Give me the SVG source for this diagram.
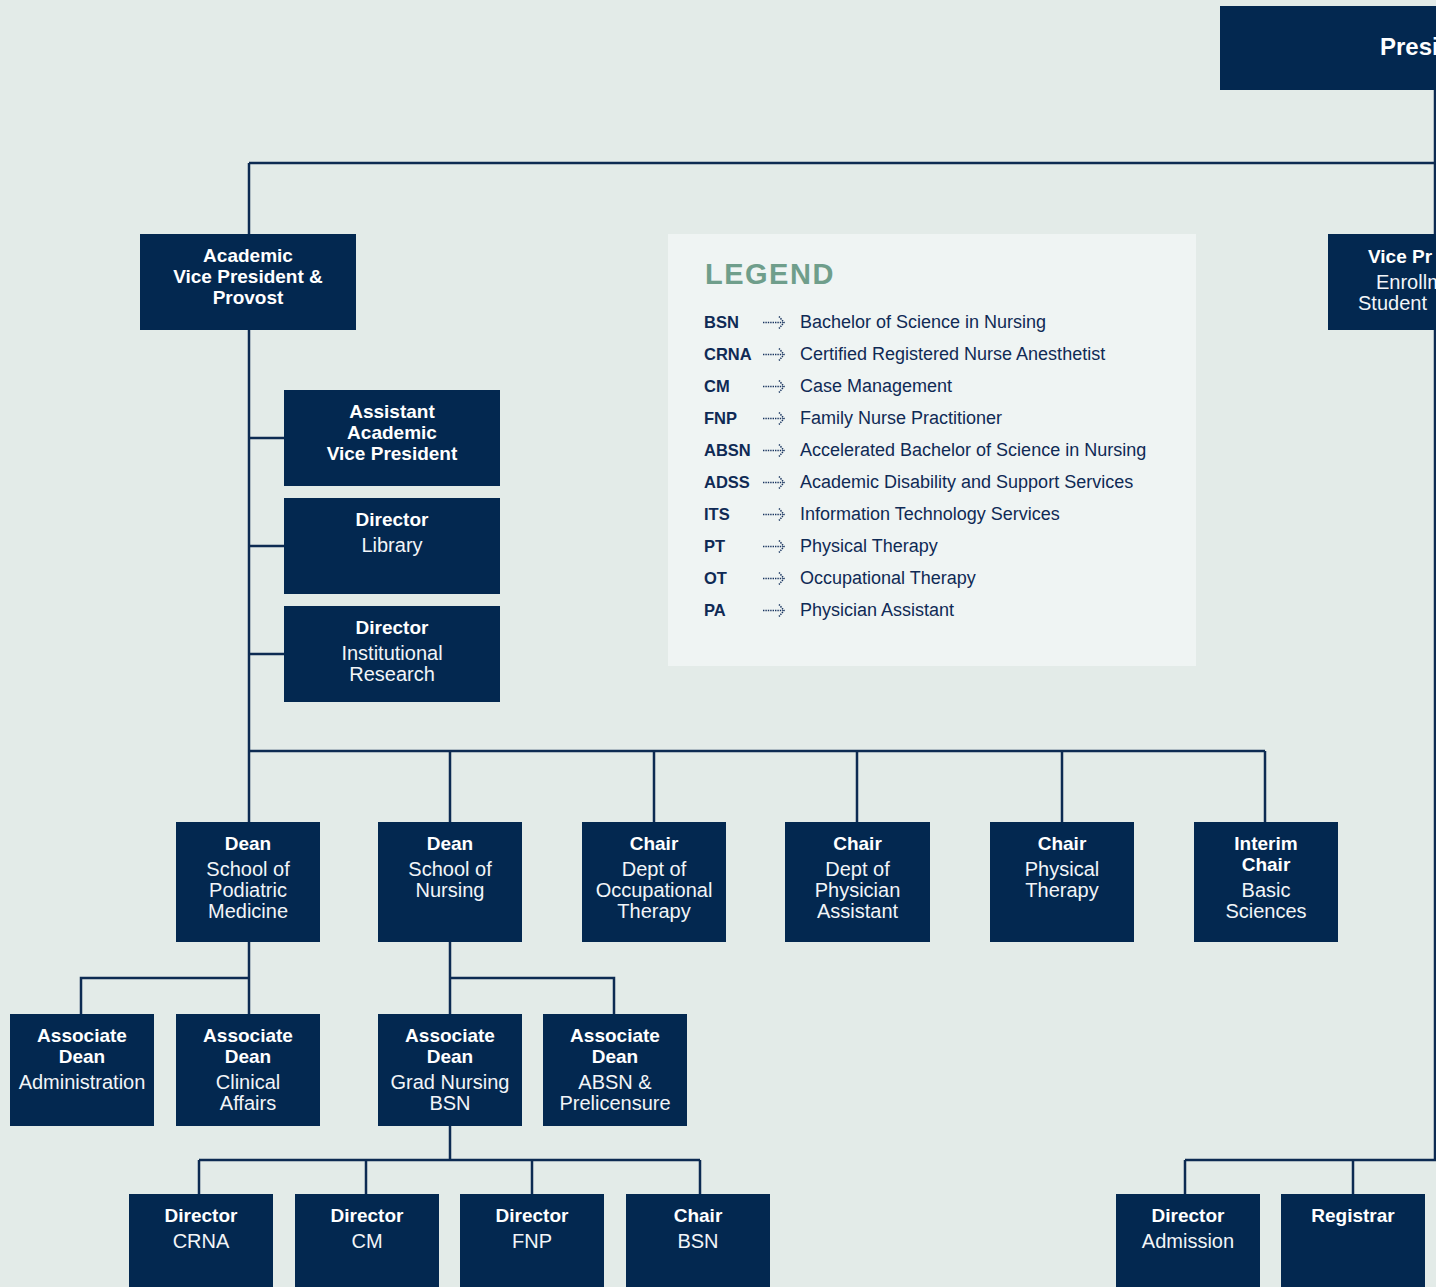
<svg xmlns="http://www.w3.org/2000/svg" width="1436" height="1287" viewBox="0 0 1436 1287">
<defs>
<style>
.bg{fill:#e3ebe8}
.box{fill:#032850}
.ln{stroke:#0d2b52;stroke-width:2.5;fill:none}
.b{font-family:"Liberation Sans",Arial,sans-serif;font-weight:bold;font-size:19px;fill:#ffffff;text-anchor:middle}
.r{font-family:"Liberation Sans",Arial,sans-serif;font-size:20px;fill:#f2f5f8;text-anchor:middle}
.lg{fill:#eff4f3}
.lt{font-family:"Liberation Sans",Arial,sans-serif;font-weight:bold;font-size:29px;fill:#6f9e8b;letter-spacing:1.5px}
.ab{font-family:"Liberation Sans",Arial,sans-serif;font-weight:bold;font-size:16.5px;fill:#0f2a55}
.ds{font-family:"Liberation Sans",Arial,sans-serif;font-size:18px;fill:#0f2a55}
.ar{stroke:#1a3560;stroke-width:1.5;fill:none;stroke-dasharray:1.4 1}
</style>
<g id="arrow"><path class="ar" d="M0 0 H20"/><path class="ar" d="M16 -6 L21 0 L16 6"/></g>
</defs>
<rect class="bg" x="0" y="0" width="1436" height="1287"/>

<g id="connectors">
<path class="ln" d="M1435 90 V1160"/>
<path class="ln" d="M249 163 H1436"/>
<path class="ln" d="M249 163 V234"/>
<path class="ln" d="M249 330 V822"/>
<path class="ln" d="M249 438 H284 M249 546 H284 M249 654 H284"/>
<path class="ln" d="M249 751 H1265"/>
<path class="ln" d="M450 751 V822 M654 751 V822 M857 751 V822 M1062 751 V822 M1265 751 V822"/>
<path class="ln" d="M249 942 V1014 M249 978 H81 V1014"/>
<path class="ln" d="M450 942 V1014 M450 978 H614 V1014"/>
<path class="ln" d="M450 1126 V1160 M199 1160 H700 M199 1160 V1194 M366 1160 V1194 M532 1160 V1194 M700 1160 V1194"/>
<path class="ln" d="M1185 1160 H1436 M1185 1160 V1194 M1353 1160 V1194"/>
</g>

<g id="president">
<rect class="box" x="1220" y="6" width="300" height="84"/>
<text x="1380" y="55" style="font-family:'Liberation Sans',Arial,sans-serif;font-weight:bold;font-size:24px;fill:#fff">Presi</text>
</g>

<g id="vp-enrollment">
<rect class="box" x="1328" y="234" width="216" height="96"/>
<text x="1368" y="263" class="b" style="text-anchor:start">Vice Pr</text>
<text x="1376" y="289" class="r" style="text-anchor:start">Enrollm</text>
<text x="1358" y="310" class="r" style="text-anchor:start">Student</text>
</g>

<g id="avp">
<rect class="box" x="140" y="234" width="216" height="96"/>
<text class="b" x="248" y="262">Academic</text>
<text class="b" x="248" y="283">Vice President &amp;</text>
<text class="b" x="248" y="304">Provost</text>
</g>

<g id="asst-avp">
<rect class="box" x="284" y="390" width="216" height="96"/>
<text class="b" x="392" y="418">Assistant</text>
<text class="b" x="392" y="439">Academic</text>
<text class="b" x="392" y="460">Vice President</text>
</g>

<g id="dir-library">
<rect class="box" x="284" y="498" width="216" height="96"/>
<text class="b" x="392" y="526">Director</text>
<text class="r" x="392" y="552">Library</text>
</g>

<g id="dir-research">
<rect class="box" x="284" y="606" width="216" height="96"/>
<text class="b" x="392" y="634">Director</text>
<text class="r" x="392" y="660">Institutional</text>
<text class="r" x="392" y="681">Research</text>
</g>

<g id="legend">
<rect class="lg" x="668" y="234" width="528" height="432"/>
<text class="lt" x="705" y="284">LEGEND</text>
<text class="ab" x="704" y="328">BSN</text><use href="#arrow" x="763" y="322.5"/><text class="ds" x="800" y="328">Bachelor of Science in Nursing</text>
<text class="ab" x="704" y="360">CRNA</text><use href="#arrow" x="763" y="354.5"/><text class="ds" x="800" y="360">Certified Registered Nurse Anesthetist</text>
<text class="ab" x="704" y="392">CM</text><use href="#arrow" x="763" y="386.5"/><text class="ds" x="800" y="392">Case Management</text>
<text class="ab" x="704" y="424">FNP</text><use href="#arrow" x="763" y="418.5"/><text class="ds" x="800" y="424">Family Nurse Practitioner</text>
<text class="ab" x="704" y="456">ABSN</text><use href="#arrow" x="763" y="450.5"/><text class="ds" x="800" y="456">Accelerated Bachelor of Science in Nursing</text>
<text class="ab" x="704" y="488">ADSS</text><use href="#arrow" x="763" y="482.5"/><text class="ds" x="800" y="488">Academic Disability and Support Services</text>
<text class="ab" x="704" y="520">ITS</text><use href="#arrow" x="763" y="514.5"/><text class="ds" x="800" y="520">Information Technology Services</text>
<text class="ab" x="704" y="552">PT</text><use href="#arrow" x="763" y="546.5"/><text class="ds" x="800" y="552">Physical Therapy</text>
<text class="ab" x="704" y="584">OT</text><use href="#arrow" x="763" y="578.5"/><text class="ds" x="800" y="584">Occupational Therapy</text>
<text class="ab" x="704" y="616">PA</text><use href="#arrow" x="763" y="610.5"/><text class="ds" x="800" y="616">Physician Assistant</text>
</g>

<g id="dean-podiatric">
<rect class="box" x="176" y="822" width="144" height="120"/>
<text class="b" x="248" y="850">Dean</text>
<text class="r" x="248" y="876">School of</text>
<text class="r" x="248" y="897">Podiatric</text>
<text class="r" x="248" y="918">Medicine</text>
</g>
<g id="dean-nursing">
<rect class="box" x="378" y="822" width="144" height="120"/>
<text class="b" x="450" y="850">Dean</text>
<text class="r" x="450" y="876">School of</text>
<text class="r" x="450" y="897">Nursing</text>
</g>
<g id="chair-ot">
<rect class="box" x="582" y="822" width="144" height="120"/>
<text class="b" x="654" y="850">Chair</text>
<text class="r" x="654" y="876">Dept of</text>
<text class="r" x="654" y="897">Occupational</text>
<text class="r" x="654" y="918">Therapy</text>
</g>
<g id="chair-pa">
<rect class="box" x="785" y="822" width="145" height="120"/>
<text class="b" x="857.5" y="850">Chair</text>
<text class="r" x="857.5" y="876">Dept of</text>
<text class="r" x="857.5" y="897">Physician</text>
<text class="r" x="857.5" y="918">Assistant</text>
</g>
<g id="chair-pt">
<rect class="box" x="990" y="822" width="144" height="120"/>
<text class="b" x="1062" y="850">Chair</text>
<text class="r" x="1062" y="876">Physical</text>
<text class="r" x="1062" y="897">Therapy</text>
</g>
<g id="chair-basic">
<rect class="box" x="1194" y="822" width="144" height="120"/>
<text class="b" x="1266" y="850">Interim</text>
<text class="b" x="1266" y="871">Chair</text>
<text class="r" x="1266" y="897">Basic</text>
<text class="r" x="1266" y="918">Sciences</text>
</g>

<g id="assoc-admin">
<rect class="box" x="10" y="1014" width="144" height="112"/>
<text class="b" x="82" y="1042">Associate</text>
<text class="b" x="82" y="1063">Dean</text>
<text class="r" x="82" y="1089">Administration</text>
</g>
<g id="assoc-clinical">
<rect class="box" x="176" y="1014" width="144" height="112"/>
<text class="b" x="248" y="1042">Associate</text>
<text class="b" x="248" y="1063">Dean</text>
<text class="r" x="248" y="1089">Clinical</text>
<text class="r" x="248" y="1110">Affairs</text>
</g>
<g id="assoc-grad">
<rect class="box" x="378" y="1014" width="144" height="112"/>
<text class="b" x="450" y="1042">Associate</text>
<text class="b" x="450" y="1063">Dean</text>
<text class="r" x="450" y="1089">Grad Nursing</text>
<text class="r" x="450" y="1110">BSN</text>
</g>
<g id="assoc-absn">
<rect class="box" x="543" y="1014" width="144" height="112"/>
<text class="b" x="615" y="1042">Associate</text>
<text class="b" x="615" y="1063">Dean</text>
<text class="r" x="615" y="1089">ABSN &amp;</text>
<text class="r" x="615" y="1110">Prelicensure</text>
</g>

<g id="dir-crna">
<rect class="box" x="129" y="1194" width="144" height="100"/>
<text class="b" x="201" y="1222">Director</text>
<text class="r" x="201" y="1248">CRNA</text>
</g>
<g id="dir-cm">
<rect class="box" x="295" y="1194" width="144" height="100"/>
<text class="b" x="367" y="1222">Director</text>
<text class="r" x="367" y="1248">CM</text>
</g>
<g id="dir-fnp">
<rect class="box" x="460" y="1194" width="144" height="100"/>
<text class="b" x="532" y="1222">Director</text>
<text class="r" x="532" y="1248">FNP</text>
</g>
<g id="chair-bsn">
<rect class="box" x="626" y="1194" width="144" height="100"/>
<text class="b" x="698" y="1222">Chair</text>
<text class="r" x="698" y="1248">BSN</text>
</g>
<g id="dir-admission">
<rect class="box" x="1116" y="1194" width="144" height="100"/>
<text class="b" x="1188" y="1222">Director</text>
<text class="r" x="1188" y="1248">Admission</text>
</g>
<g id="registrar">
<rect class="box" x="1281" y="1194" width="144" height="100"/>
<text class="b" x="1353" y="1222">Registrar</text>
</g>
</svg>
